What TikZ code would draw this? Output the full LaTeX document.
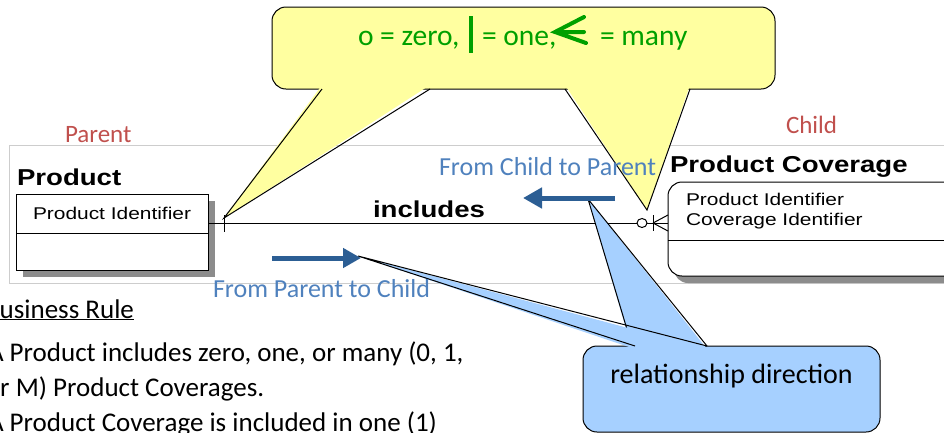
\documentclass[tikz,border=0pt]{standalone}
\usepackage{fontspec}
\setmainfont{Carlito}
\newfontfamily\arialf{Liberation Sans}
\usetikzlibrary{arrows.meta}
\definecolor{calloutyellow}{RGB}{255,255,160}
\definecolor{calloutblue}{RGB}{166,208,255}
\definecolor{keygreen}{RGB}{0,160,0}
\definecolor{parentred}{RGB}{192,80,77}
\definecolor{labelblue}{RGB}{79,129,189}
\definecolor{arrowblue}{RGB}{44,94,148}
\definecolor{framegray}{RGB}{205,205,205}
\definecolor{shadowgray}{RGB}{140,140,140}
\begin{document}
\begin{tikzpicture}[x=1pt,y=-1pt,line width=1pt,
  txt/.style={inner sep=0pt,outer sep=0pt,anchor=base west},
  ctxt/.style={inner sep=0pt,outer sep=0pt,anchor=base},
  boxnode/.style={draw,fill=white,inner sep=0pt,outer sep=0pt,anchor=north west},
  calloutbox/.style={draw,rounded corners=14pt,inner sep=0pt,outer sep=0pt,anchor=north west},
  dirarrow/.style={arrowblue,line width=5pt,-{Triangle[length=18pt,width=19pt]}},
  keymark/.style={keygreen,line width=4pt},
  keytext/.style={txt,keygreen,font=\fontsize{29.5}{35}\selectfont},
  body/.style={txt,font=\fontsize{27}{32}\selectfont},
  bluelabel/.style={txt,labelblue,font=\fontsize{26}{30}\selectfont},
  redlabel/.style={txt,parentred,font=\fontsize{25}{30}\selectfont},
  enttitle/.style={txt,font=\arialf\bfseries\fontsize{23}{27}\selectfont},
  attr/.style={txt,font=\arialf\fontsize{17}{20}\selectfont}]
\useasboundingbox (0,0) rectangle (944,432);
\clip (0,0) rectangle (944,432);

% frame of the ER picture
\draw[framegray] (9,145) rectangle (970,283);

% parent entity
\fill[shadowgray] (23,201) rectangle (215,277);
\node[boxnode,minimum width=192pt,minimum height=76pt] (parent) at (16,194) {};
\draw (16,233) -- (208,233);
\node[enttitle] (ptitle) at (17,185) {\scalebox{1.2}[1]{Product}};
\node[attr] (pattr) at (33,219) {\scalebox{1.23}[1]{Product Identifier}};

% child entity
\fill[shadowgray,rounded corners=14pt] (674,189) rectangle (962,283);
\node[boxnode,rounded corners=14pt,minimum width=290pt,minimum height=94pt] (child) at (668,182) {};
\draw (668,240) -- (958,240);
\node[enttitle] (ctitle) at (670,172) {\scalebox{1.2}[1]{Product Coverage}};
\node[attr] (cattr1) at (686,205) {\scalebox{1.23}[1]{Product Identifier}};
\node[attr] (cattr2) at (686,225) {\scalebox{1.23}[1]{Coverage Identifier}};

% relationship
\coordinate (rel) at (0,223);
\draw (parent.east |- rel) -- (child.west |- rel);
\draw (224,215) -- (224,232);
\draw[fill=white] (642,223) ellipse (5pt and 4.5pt);
\draw (653,215) -- (653,231);
\draw (653,223) -- (668,215) (653,223) -- (668,231);
\node[enttitle] (incl) at (373,217) {\scalebox{1.2}[1]{includes}};

% yellow key callout
\node[calloutbox,fill=calloutyellow,minimum width=503pt,minimum height=82pt] (key) at (272,7) {};
\coordinate (ktipL) at (224,218);
\coordinate (ktipR) at (647,210);
\fill[calloutyellow] (322,85) -- (ktipL) -- (430,85) -- cycle;
\draw (322,89) -- (ktipL) -- (430,89);
\fill[calloutyellow] (565,85) -- (ktipR) -- (690,85) -- cycle;
\draw (565,89) -- (ktipR) -- (690,89);
\node[keytext] (k1) at (358,45) {o = zero,};
\draw[keymark] (471,16) -- (471,53);
\node[keytext] (k2) at (482,45) {= one,};
\draw[keymark,line cap=round] (584,17) -- (555,32) -- (586,43) (555,32) -- (584,32);
\node[keytext] (k3) at (600,45) {= many};

% blue relationship-direction callout
\node[calloutbox,fill=calloutblue,minimum width=297pt,minimum height=86pt] (rd) at (583,346) {};
\coordinate (rtip2) at (588,199);
\coordinate (rtip1) at (358,256);
\fill[calloutblue] (632,349) -- (rtip2) -- (707,349) -- cycle;
\draw (632,346) -- (rtip2) -- (707,346);
\fill[calloutblue] (635,349) -- (rtip1) -- (707,349) -- cycle;
\draw (635,346) -- (rtip1) -- (707,346);
\node[ctxt,font=\fontsize{28}{33}\selectfont] (rdtext) at (731.5,383) {relationship direction};

% direction arrows
\coordinate (a1s) at (272,258);
\coordinate (a1e) at (361,258);
\draw[dirarrow] (a1s) -- (a1e);
\coordinate (a2s) at (615,198);
\coordinate (a2e) at (523,198);
\draw[dirarrow,-{Triangle[length=19pt,width=20pt]}] (a2s) -- (a2e);

% labels
\node[bluelabel] (c2p) at (439,175) {From Child to Parent};
\node[bluelabel] (p2c) at (213,297) {From Parent to Child};
\node[redlabel] (parlbl) at (65,142) {Parent};
\node[redlabel] (chlbl) at (786,133) {Child};

% business rule text
\node[body] (br) at (-15,318) {\underline{Business Rule}};
\node[body] (l1) at (-12,361) {A Product includes zero, one, or many (0, 1,};
\node[body] (l2) at (-14,396) {or M) Product Coverages.};
\node[body] (l3) at (-12,431) {A Product Coverage is included in one (1)};
\end{tikzpicture}
\end{document}
